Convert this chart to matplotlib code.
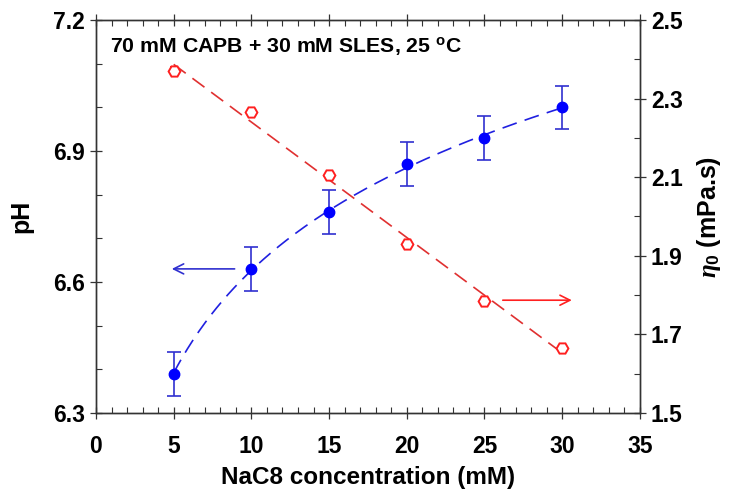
import numpy as np
import matplotlib
matplotlib.use('Agg')
import matplotlib.pyplot as plt

plt.rcParams['font.family'] = ['Liberation Sans', 'DejaVu Sans']
plt.rcParams['font.weight'] = 'bold'
plt.rcParams['mathtext.fontset'] = 'custom'
plt.rcParams['mathtext.rm'] = 'Liberation Sans:bold'
plt.rcParams['mathtext.it'] = 'Liberation Serif:italic'

# data
conc = [5, 10, 15, 20, 25, 30]
ph = [6.39, 6.63, 6.76, 6.87, 6.93, 7.00]
ph_err = [0.05, 0.05, 0.05, 0.05, 0.05, 0.05]
visc = [2.37, 2.265, 2.105, 1.93, 1.785, 1.665]
visc_err = [0.01, 0.005, 0.005, 0.005, 0.005, 0.005]

fig = plt.figure(figsize=(7.3, 4.94), dpi=100)
ax = fig.add_axes([0.1315, 0.164, 0.745, 0.7955])
ax2 = ax.twinx()

# fitted curves (log fit for pH, linear for viscosity)
xf = np.linspace(5, 30, 200)
pb = np.polyfit(np.log(conc), ph, 1)
ax.plot(xf, np.polyval(pb, np.log(xf)), color='#2020e0', lw=1.2, dashes=(9, 5))
ax.errorbar(conc, ph, yerr=ph_err, fmt='o', color='#0000ff', ms=7.5,
            ecolor='#3030d0', elinewidth=1.2, capsize=5, capthick=1.2)

pr = np.polyfit(conc, visc, 1)
ax2.plot(xf, np.polyval(pr, xf), color='#e03030', lw=1.2, dashes=(9, 5))
ax2.errorbar(conc, visc, yerr=visc_err, fmt='H', mfc='white', mec='#ff2020',
             mew=1.4, ms=8.5, ecolor='#ff2020', elinewidth=1, capsize=3)

# arrows
ax.annotate('', xy=(4.7, 6.63), xytext=(9.1, 6.63),
            arrowprops=dict(arrowstyle='->', color='#3030d0', lw=1.2, mutation_scale=18))
ax2.annotate('', xy=(30.8, 1.787), xytext=(26.0, 1.787),
             arrowprops=dict(arrowstyle='->', color='#ff2020', lw=1.2, mutation_scale=18))

ax.set_xlim(0, 35)
ax.set_ylim(6.3, 7.2)
ax2.set_ylim(1.5, 2.5)
ax.set_xticks(np.arange(0, 36, 5))
ax.set_xticks(np.arange(0, 36, 1), minor=True)
ax.set_yticks([6.3, 6.6, 6.9, 7.2])
ax.set_yticks(np.arange(6.3, 7.21, 0.1), minor=True)
ax2.set_yticks([1.5, 1.7, 1.9, 2.1, 2.3, 2.5])
ax2.set_yticks(np.arange(1.5, 2.51, 0.1), minor=True)
ax.yaxis.set_major_formatter(matplotlib.ticker.FormatStrFormatter('%.1f'))
ax2.yaxis.set_major_formatter(matplotlib.ticker.FormatStrFormatter('%.1f'))

for a in (ax, ax2):
    a.tick_params(which='major', direction='inout', length=9, width=0.9,
                  labelsize=16.5, top=True, color='#333333')
    a.tick_params(which='minor', direction='in', length=4, width=0.8, top=True,
                  color='#333333')
    for s in a.spines.values():
        s.set_color('#333333')
        s.set_linewidth(1.0)
ax.tick_params(axis='y', right=False, which='both')
ax.tick_params(axis='x', top=True, which='both')
ax2.tick_params(axis='x', top=False, bottom=False, which='both')
ax.tick_params(axis='x', pad=11)

ax.set_xlabel('NaC8 concentration (mM)', fontsize=17.5, fontweight='bold', labelpad=6)
ax.set_ylabel('pH', fontsize=18, fontweight='bold', labelpad=14)
ax2.set_ylabel(r'$\eta_0$ (mPa.s)', fontsize=18, fontweight='bold', labelpad=9)

ax.text(0.026, 0.931, r'70 mM CAPB + 30 mM SLES, 25 $^{\mathrm{o}}$C', transform=ax.transAxes,
        fontsize=15.3, fontweight='bold', va='center', ha='left')

fig.savefig('out.png', dpi=100)
